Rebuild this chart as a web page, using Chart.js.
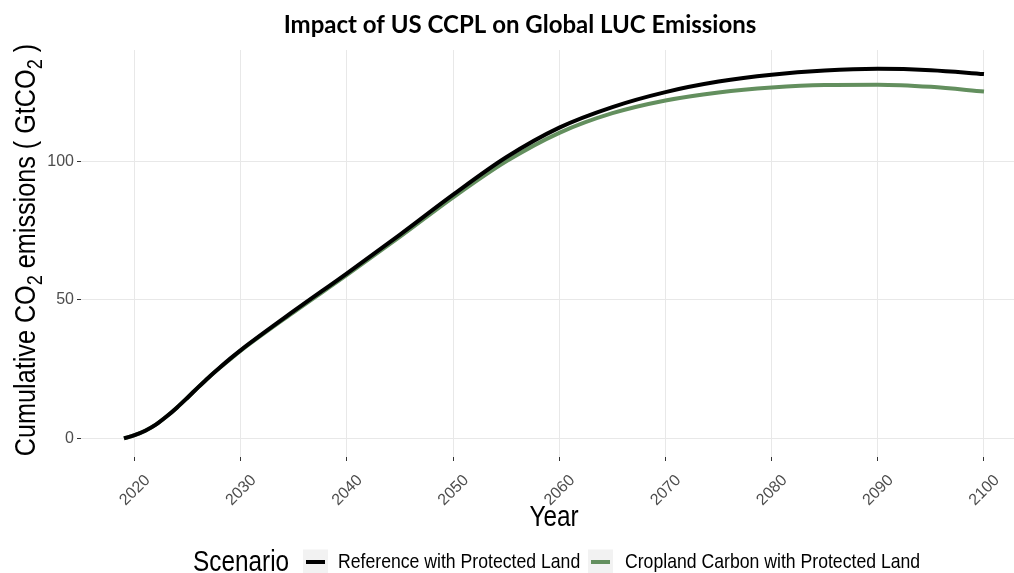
<!DOCTYPE html>
<html>
<head>
<meta charset="utf-8">
<script src="https://cdn.jsdelivr.net/npm/chart.js@4.4.1/dist/chart.umd.min.js"></script>
<style>
  html, body { margin: 0; padding: 0; background: #ffffff; overflow: hidden; }
  #wrap { width: 1014px; height: 573px; overflow: hidden; position: relative; }
  canvas { display: block; }
</style>
</head>
<body>
<div id="wrap"><canvas id="chart" width="1041" height="573"></canvas></div>
<script>
// Cumulative land-use-change CO2 emissions (GtCO2) by scenario
const years = [2019, 2020, 2021, 2022, 2023, 2024, 2025, 2026, 2027, 2028, 2029, 2030,
               2035, 2040, 2045, 2050, 2055, 2060, 2065, 2070, 2075, 2080, 2085, 2090, 2095, 2100];
const referenceProtected = [0, 1.2, 2.8, 5.0, 7.9, 11.2, 14.8, 18.5, 22.1, 25.5, 28.8, 31.9,
                            46.0, 59.6, 73.6, 88.0, 101.5, 112.2, 119.6, 125.0, 128.8, 131.3, 132.8, 133.4, 132.9, 131.5];
const croplandCarbonProtected = [0, 1.2, 2.8, 5.0, 7.9, 11.2, 14.8, 18.5, 22.1, 25.4, 28.6, 31.7,
                                 45.6, 59.0, 72.8, 87.0, 100.0, 110.3, 117.4, 122.0, 124.9, 126.7, 127.6, 127.7, 126.9, 125.2];

const seriesLabels = ['Reference with Protected Land', 'Cropland Carbon with Protected Land'];
const seriesColors = ['#000000', '#638f5e'];
const xTickValues = [2020, 2030, 2040, 2050, 2060, 2070, 2080, 2090, 2100];
const yTickValues = [0, 50, 100];

const chartTitle = 'Impact of US CCPL on Global LUC Emissions';
const xTitle = 'Year';
const legendTitle = 'Scenario';
// y title split into runs so the "2" can be set as a subscript
const yTitleRuns = [
  { t: 'Cumulative CO' }, { t: '2', sub: true }, { t: ' emissions ( GtCO' }, { t: '2', sub: true }, { t: ' )' }
];

const TEXT_FONT = '"Liberation Sans", Arial, sans-serif';
const NARROW = 0.84; // condensed look for the axis and legend titles

function toPoints(values) {
  return years.map((yr, i) => ({ x: yr, y: values[i] }));
}

function drawRuns(ctx, runs, size, x, y, align) {
  let total = 0;
  const widths = runs.map(r => {
    ctx.font = (r.sub ? size * 0.72 : size) + 'px ' + TEXT_FONT;
    const w = ctx.measureText(r.t).width;
    total += w;
    return w;
  });
  let cx = align === 'center' ? x - total / 2 : x;
  runs.forEach((r, i) => {
    ctx.font = (r.sub ? size * 0.72 : size) + 'px ' + TEXT_FONT;
    ctx.fillText(r.t, cx, y + (r.sub ? size * 0.22 : 0));
    cx += widths[i];
  });
}

const decorations = {
  id: 'decorations',
  afterDraw(chart) {
    const ctx = chart.ctx;
    const area = chart.chartArea;
    ctx.save();
    ctx.textBaseline = 'alphabetic';
    ctx.textAlign = 'left';
    ctx.fillStyle = '#000000';

    // chart title
    ctx.font = 'bold 24px Lato, "Open Sans", sans-serif';
    ctx.textAlign = 'center';
    ctx.fillText(chartTitle, 520, 33);

    // x axis title
    ctx.save();
    ctx.translate((area.left + area.right) / 2, 526);
    ctx.scale(NARROW, 1);
    ctx.font = '29px ' + TEXT_FONT;
    ctx.textAlign = 'center';
    ctx.fillText(xTitle, 0, 0);
    ctx.restore();

    // y axis title, rotated
    ctx.save();
    ctx.translate(35, 250);
    ctx.rotate(-Math.PI / 2);
    ctx.scale(NARROW, 1);
    ctx.textAlign = 'left';
    drawRuns(ctx, yTitleRuns, 30, 0, 0, 'center');
    ctx.restore();

    // legend
    const ly = 562;
    ctx.save();
    ctx.translate(193, ly + 9);
    ctx.scale(NARROW, 1);
    ctx.font = '29px ' + TEXT_FONT;
    ctx.textAlign = 'left';
    ctx.fillText(legendTitle, 0, 0);
    ctx.restore();

    const keyX = [303, 588];
    const labelX = [338, 625];
    chart.data.datasets.forEach((ds, i) => {
      ctx.fillStyle = '#f2f2f2';
      ctx.fillRect(keyX[i], ly - 12.5, 25, 25);
      ctx.strokeStyle = ds.borderColor;
      ctx.lineWidth = 4;
      ctx.lineCap = 'butt';
      ctx.beginPath();
      ctx.moveTo(keyX[i] + 3, ly);
      ctx.lineTo(keyX[i] + 22, ly);
      ctx.stroke();

      ctx.save();
      ctx.translate(labelX[i], ly + 6);
      ctx.scale(NARROW, 1);
      ctx.fillStyle = '#000000';
      ctx.font = '21px ' + TEXT_FONT;
      ctx.textAlign = 'left';
      ctx.fillText(ds.label, 0, 0);
      ctx.restore();
    });
    ctx.restore();
  }
};

new Chart(document.getElementById('chart'), {
  type: 'line',
  data: {
    datasets: [
      {
        label: seriesLabels[0],
        data: toPoints(referenceProtected),
        borderColor: seriesColors[0],
        backgroundColor: seriesColors[0],
        borderWidth: 4,
        pointRadius: 0,
        cubicInterpolationMode: 'monotone',
        fill: false
      },
      {
        label: seriesLabels[1],
        data: toPoints(croplandCarbonProtected),
        borderColor: seriesColors[1],
        backgroundColor: seriesColors[1],
        borderWidth: 4,
        pointRadius: 0,
        cubicInterpolationMode: 'monotone',
        fill: false
      }
    ]
  },
  options: {
    responsive: false,
    animation: false,
    events: [],
    layout: { padding: { top: 50, right: 14, bottom: 0, left: 0 } },
    plugins: {
      legend: { display: false },
      title: { display: false },
      tooltip: { enabled: false }
    },
    scales: {
      x: {
        type: 'linear',
        min: 2014.95,
        max: 2104.05,
        afterBuildTicks: scale => { scale.ticks = xTickValues.map(v => ({ value: v })); },
        afterFit: scale => { scale.height = 116; },
        border: { display: false },
        grid: { color: '#e8e8e8', lineWidth: 1, tickColor: '#333333', tickLength: 4, drawTicks: true },
        ticks: {
          color: '#4d4d4d',
          font: { family: TEXT_FONT, size: 16 },
          minRotation: 45,
          maxRotation: 45,
          padding: 10,
          labelOffset: 13,
          callback: v => String(v)
        }
      },
      y: {
        type: 'linear',
        min: -6.7,
        max: 140.2,
        afterBuildTicks: scale => { scale.ticks = yTickValues.map(v => ({ value: v })); },
        afterFit: scale => { scale.width = 81; },
        border: { display: false },
        grid: { color: '#e8e8e8', lineWidth: 1, tickColor: '#333333', tickLength: 4, drawTicks: true },
        ticks: {
          color: '#4d4d4d',
          font: { family: TEXT_FONT, size: 16 },
          padding: 3,
          callback: v => String(v)
        }
      }
    }
  },
  plugins: [decorations]
});
</script>
</body>
</html>
